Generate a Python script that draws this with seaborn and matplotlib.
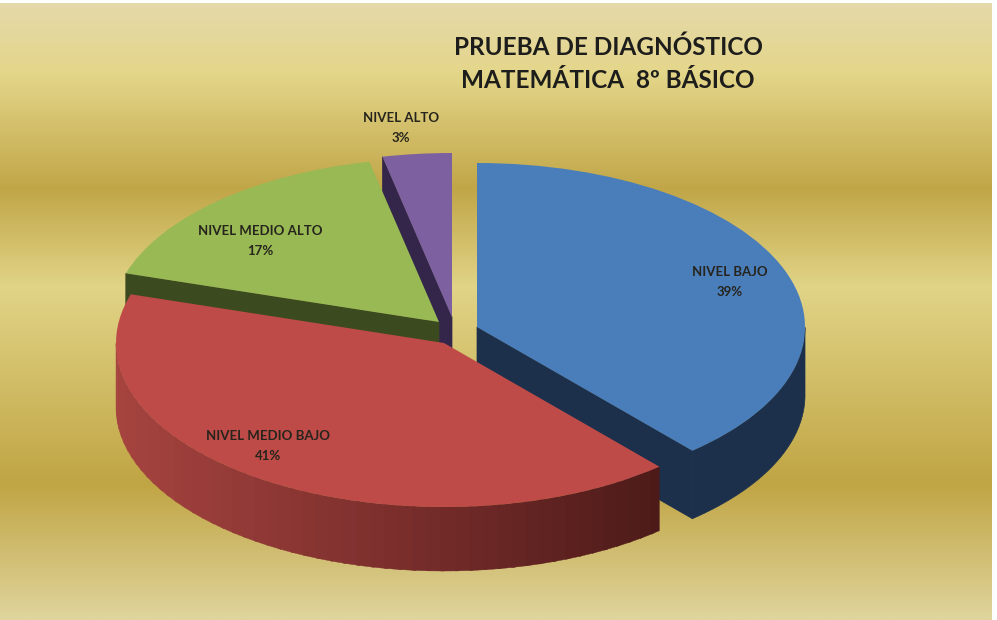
import numpy as np
import matplotlib
matplotlib.use("Agg")
import matplotlib.pyplot as plt
from matplotlib.colors import LinearSegmentedColormap
from matplotlib.patches import Polygon
import seaborn as sns

# --- data ---
categories = ["NIVEL BAJO", "NIVEL MEDIO BAJO", "NIVEL MEDIO ALTO", "NIVEL ALTO"]
percent = [38.6, 41.2, 16.8, 3.4]  # labels show them rounded
title_lines = ["PRUEBA DE DIAGNÓSTICO", "MATEMÁTICA  8º BÁSICO"]

# --- colours ---
top_colors = ["#4a7ebb", "#be4b48", "#98b954", "#7d60a0"]
side_colors = ["#1c304c", "#4a1a18", "#3c4a1f", "#33264a"]

# --- layout, in reference pixels ---
W, H = 997, 620
RX, RY = 328, 164
apex_px = [(477, 327), (444, 343), (439, 322), (452, 317)]
depth_px = [68, 64, 62, 62]
label_px = [(730, 272), (268, 436), (260, 231), (401, 118)]
draw_order = [3, 2, 0, 1]

sns.set_theme(style="white")
plt.rcParams["font.family"] = ["Lato", "DejaVu Sans"]


def to_data(px, py):
    return px / RX, (H - py) / RY


fig = plt.figure(figsize=(W / 100, H / 100), dpi=100, facecolor="white")
ax = fig.add_axes([0, 0, 1, 1])

# banded gold background
bg_stops = [(0.0, "#e5d9aa"), (0.11, "#e4d68a"), (0.30, "#c1a648"),
            (0.46, "#e1d487"), (0.78, "#c0a544"), (1.0, "#dfd49c")]
bg_cmap = LinearSegmentedColormap.from_list("gold", bg_stops)
x0, y0 = to_data(0, 3)
x1, y1 = to_data(991, 620)
ax.imshow(np.linspace(0, 1, 600).reshape(-1, 1), cmap=bg_cmap, aspect="auto",
          extent=(x0, x1, y1, y0), zorder=0)

# the pie gives the wedge angles, then every wedge goes to its own exploded centre
wedges, _ = ax.pie(percent, startangle=90, counterclock=False, radius=1,
                   colors=top_colors, wedgeprops={"linewidth": 0})
ax.set_aspect("auto")
ax.set_xlim(0, W / RX)
ax.set_ylim(0, H / RY)
ax.axis("off")

rim_shades = sns.blend_palette(["#a5433f", "#7a2e2c", "#4a1a18"], 60)

for rank, i in enumerate(draw_order):
    wedge = wedges[i]
    cx, cy = to_data(*apex_px[i])
    depth = depth_px[i] / RY
    base_z = 2 + rank * 3
    wedge.set_center((cx, cy))
    wedge.set_zorder(base_z + 2)

    # cut faces looking towards the viewer
    for theta, normal in ((wedge.theta1, wedge.theta1 - 90), (wedge.theta2, wedge.theta2 + 90)):
        if np.sin(np.radians(normal)) < -0.05:
            ex = cx + np.cos(np.radians(theta))
            ey = cy + np.sin(np.radians(theta))
            face = [(cx, cy), (ex, ey), (ex, ey - depth), (cx, cy - depth)]
            ax.add_patch(Polygon(face, closed=True, fc=side_colors[i], ec=side_colors[i],
                                 lw=0.5, zorder=base_z))

    # outer rim, front half only
    angles = np.linspace(wedge.theta1, wedge.theta2, 240)
    angles = angles[np.sin(np.radians(angles)) < 0]
    if len(angles) < 2:
        continue
    xs = cx + np.cos(np.radians(angles))
    ys = cy + np.sin(np.radians(angles))
    if categories[i] == "NIVEL MEDIO BAJO":
        # shaded in thin vertical strips
        for a in range(0, len(angles) - 1, 4):
            b = min(a + 5, len(angles) - 1)
            strip = list(zip(xs[a:b + 1], ys[a:b + 1])) + list(zip(xs[a:b + 1][::-1], ys[a:b + 1][::-1] - depth))
            t = (xs[a] - xs.min()) / (xs.max() - xs.min())
            ax.add_patch(Polygon(strip, closed=True, fc=rim_shades[int(t * 59)], lw=0.3,
                                 ec=rim_shades[int(t * 59)], zorder=base_z + 1))
    else:
        rim = list(zip(xs, ys)) + list(zip(xs[::-1], ys[::-1] - depth))
        ax.add_patch(Polygon(rim, closed=True, fc=side_colors[i], ec=side_colors[i],
                             lw=0.5, zorder=base_z + 1))

# labels
for name, pct, (lx, ly) in zip(categories, percent, label_px):
    ax.text(*to_data(lx, ly), name, ha="center", va="center", fontsize=9.5,
            color="#26241c", fontweight="bold", zorder=30)
    ax.text(*to_data(lx, ly + 20), f"{pct:.0f}%", ha="center", va="center", fontsize=9.5,
            color="#26241c", fontweight="bold", zorder=30)

# title
ax.text(*to_data(608, 47), title_lines[0], ha="center", va="center", fontsize=17.5,
        fontweight="bold", color="#1d1d1b", zorder=30)
ax.text(*to_data(608, 81), title_lines[1], ha="center", va="center", fontsize=17.5,
        fontweight="bold", color="#1d1d1b", zorder=30)

fig.savefig("out.png", dpi=100, facecolor="white")
